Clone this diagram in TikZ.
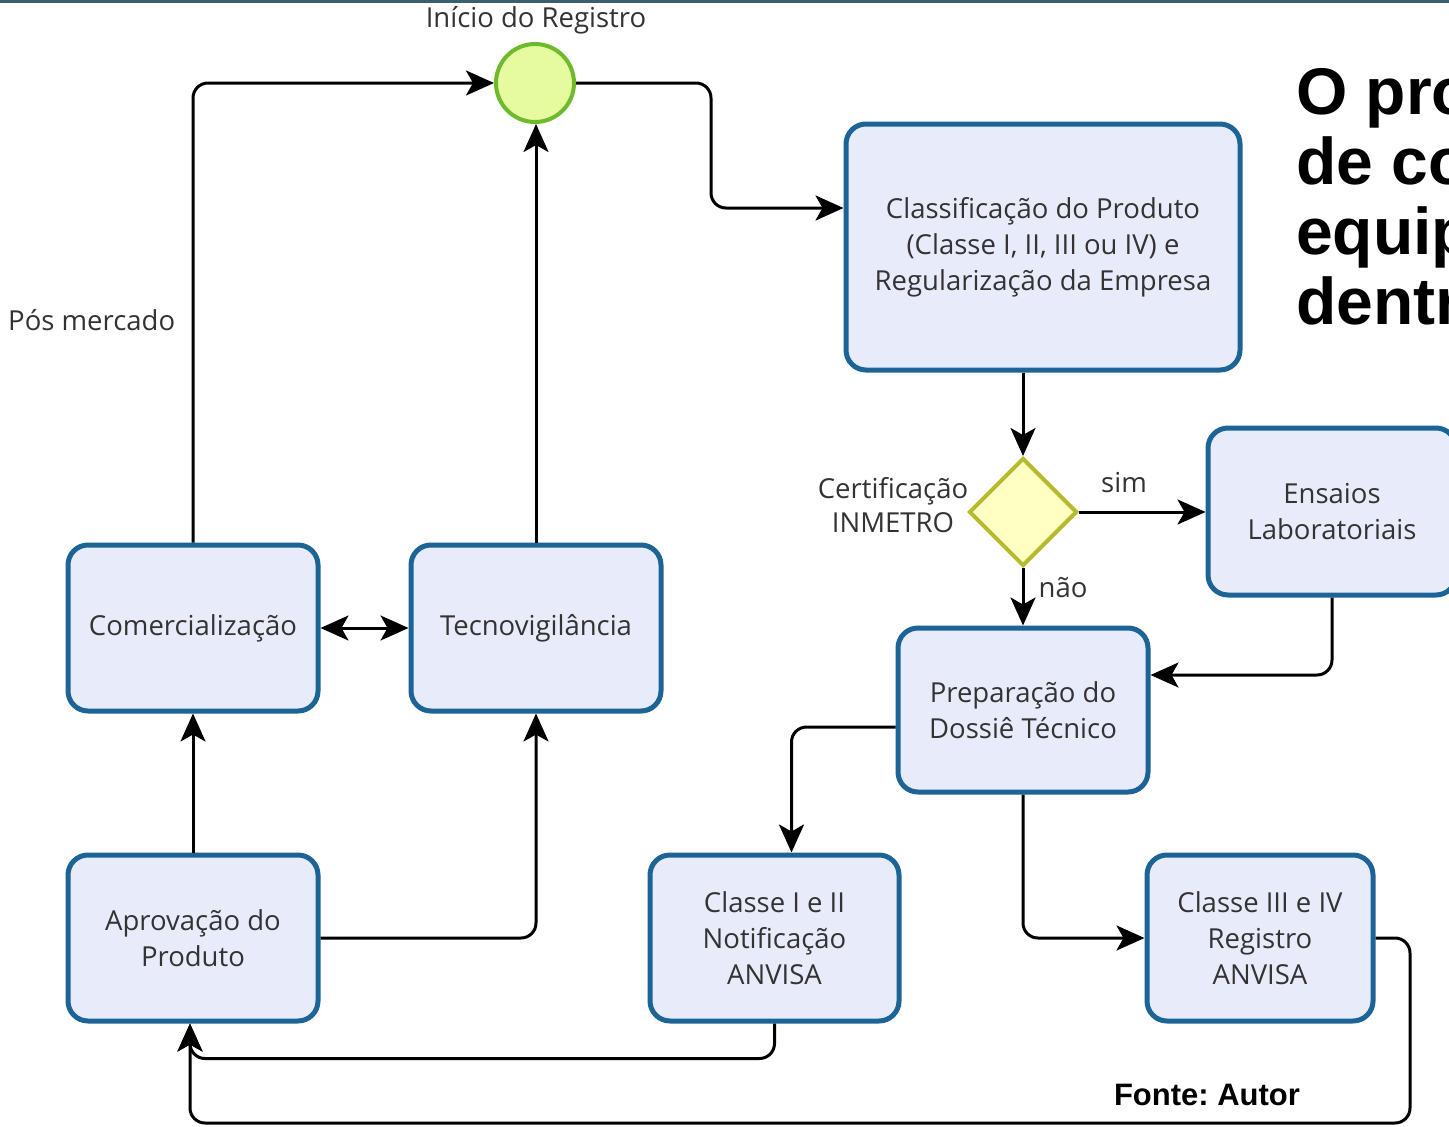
\documentclass[tikz,border=0pt]{standalone}
\usepackage{fontspec}
\setmainfont{Open Sans}
\newfontfamily\arialb{Liberation Sans}[BoldFont={Liberation Sans Bold}]
\usetikzlibrary{shapes.geometric,arrows.meta,calc}
\definecolor{boxfill}{HTML}{E8ECFA}
\definecolor{boxline}{HTML}{1D6496}
\definecolor{circfill}{HTML}{E6FAA0}
\definecolor{circline}{HTML}{6DBB2C}
\definecolor{diafill}{HTML}{FFFFC4}
\definecolor{dialine}{HTML}{B7BA2C}
\definecolor{txt}{HTML}{333333}
\definecolor{topline}{HTML}{3A6070}
\tikzset{
  myt/.tip={Stealth[length=28pt,width=25pt,inset=7pt]},
  procbox/.style={draw=boxline, fill=boxfill, line width=5pt, rounded corners=20pt,
    align=center, text=txt, font=\fontsize{27.5}{36}\selectfont, inner sep=0pt},
  lbl/.style={text=txt, font=\fontsize{27.5}{34}\selectfont, align=center, inner sep=0pt},
  conn/.style={line width=3pt, rounded corners=15pt, -myt},
  dconn/.style={line width=3pt, myt-myt},
}
\begin{document}
\begin{tikzpicture}[x=1pt,y=-1pt]
\useasboundingbox (0,0) rectangle (1449,1127);
\fill[white] (0,0) rectangle (1449,1127);
\fill[topline] (0,0) rectangle (1449,3);

% nodes
\node[circle, draw=circline, fill=circfill, line width=4pt, minimum size=78pt, inner sep=0pt] (start) at (535,83) {};
\node[lbl] (startlbl) at (536,20) {Início do Registro};
\node[procbox, minimum width=394pt, minimum height=246pt] (classif) at (1043,247)
  {Classificação do Produto\\(Classe I, II, III ou IV) e\\Regularização da Empresa};
\node[diamond, aspect=1, draw=dialine, fill=diafill, line width=4pt, minimum width=108pt, minimum height=108pt, inner sep=0pt] (dia) at (1023,512) {};
\node[lbl] (certlbl) at (893,505) {Certificação\\INMETRO};
\node[lbl] (simlbl) at (1124,483) {sim};
\node[lbl] (naolbl) at (1063,588) {não};
\node[procbox, minimum width=248pt, minimum height=167pt] (ensaios) at (1332,511.5) {Ensaios\\Laboratoriais};
\node[procbox, minimum width=250pt, minimum height=164pt] (prep) at (1023,710) {Preparação do\\Dossiê Técnico};
\node[procbox, minimum width=250pt, minimum height=166pt] (comm) at (193,628) {Comercialização};
\node[procbox, minimum width=250pt, minimum height=166pt] (tecno) at (536,628) {Tecnovigilância};
\node[procbox, minimum width=250pt, minimum height=166pt] (aprov) at (193,938) {Aprovação do\\Produto};
\node[procbox, minimum width=249pt, minimum height=166pt] (c12) at (774.5,938) {Classe I e II\\Notificação\\ANVISA};
\node[procbox, minimum width=226pt, minimum height=166pt] (c34) at (1260,938) {Classe III e IV\\Registro\\ANVISA};
\node[lbl, anchor=west] (pos) at (8,320) {Pós mercado};
\node[anchor=north west, inner sep=0pt, align=left, font=\arialb\bfseries\fontsize{66}{70}\selectfont] (title) at (1296,68)
  {O pro\\de co\\equip\\dentr};
\node[font=\arialb\bfseries\fontsize{31}{36}\selectfont, inner sep=0pt] (fonte) at (1207,1095) {Fonte:\ Autor};

% helper coordinates
\coordinate (m1) at (711,150);
\coordinate (r1) at (1410,1123);

% connectors
\draw[conn] (comm.north) |- (start.west);
\draw[conn] (tecno.north) -- (tecno.north |- start.south);
\draw[conn] (start.east) -| (m1) |- ([yshift=39pt]classif.west);
\draw[conn] (dia.north |- classif.south) -- (dia.north);
\draw[conn] (dia.east) -- (dia.east -| ensaios.west);
\draw[conn] (dia.south) -- (prep.north);
\draw[conn] (ensaios.south) |- ([yshift=35pt]prep.east);
\draw[conn] ([yshift=-17pt]prep.west) -| ([xshift=17pt]c12.north);
\draw[conn] (prep.south) |- (c34.west);
\draw[conn] (c34.east) -| (r1) -| ([xshift=-3pt]aprov.south);
\draw[conn] (c12.south) -- ++(0,35) -| ([xshift=-3pt]aprov.south);
\draw[conn] (aprov.north) -- (comm.south);
\draw[conn] (aprov.east) -| (tecno.south);
\draw[dconn] (comm.east) -- (tecno.west);
\end{tikzpicture}
\end{document}
